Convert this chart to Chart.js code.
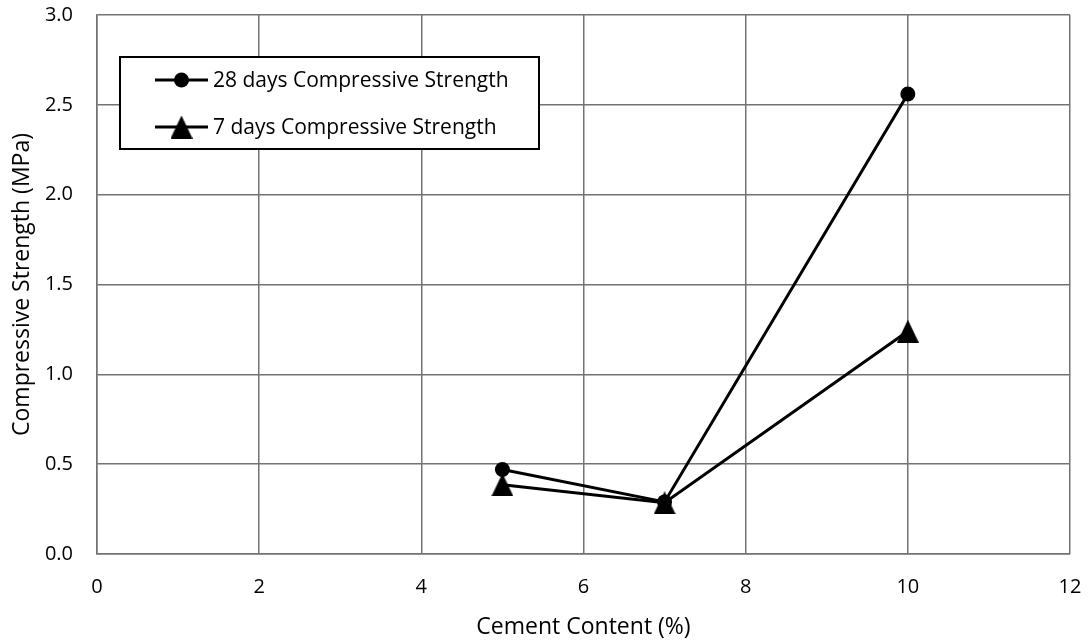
<!DOCTYPE html>
<html>
<head>
<meta charset="utf-8">
<script src="https://cdn.jsdelivr.net/npm/chart.js@4/dist/chart.umd.min.js"></script>
<style>
  html, body { margin: 0; padding: 0; background: #fff; }
  #wrap { width: 1091px; height: 643px; }
</style>
</head>
<body>
<div id="wrap"><canvas id="c" width="1091" height="643"></canvas></div>
<script>
// Cement content (%) and compressive strength (MPa)
const cementContent = [5, 7, 10];
const strength28Days = [0.47, 0.29, 2.56];
const strength7Days = [0.385, 0.285, 1.24];
const seriesLabels = ['28 days Compressive Strength', '7 days Compressive Strength'];
const xTitle = 'Cement Content (%)';
const yTitle = 'Compressive Strength (MPa)';

const FONT = '"Open Sans", "Noto Sans", sans-serif';
const TICK_SIZE = 20;
const LEGEND_SIZE = 21;
const TITLE_SIZE = 23;
const GRID = '#737373';

// Filled triangle marker as a small canvas image
function makeTriangle(w, h) {
  const cv = document.createElement('canvas');
  cv.width = w; cv.height = h;
  const g = cv.getContext('2d');
  g.fillStyle = '#000';
  g.beginPath();
  g.moveTo(w / 2, 0);
  g.lineTo(w, h);
  g.lineTo(0, h);
  g.closePath();
  g.fill();
  return cv;
}
const triangle = makeTriangle(22, 23);

const toXY = (xs, ys) => xs.map((x, i) => ({ x: x, y: ys[i] }));

// Boxed legend drawn inside the plot area
const boxLegend = {
  id: 'boxLegend',
  afterDraw(chart) {
    const ctx = chart.ctx;
    const left = 120, top = 57, right = 539, bottom = 149;
    const rows = [80, 127];
    ctx.save();
    ctx.fillStyle = '#fff';
    ctx.fillRect(left, top, right - left, bottom - top);
    ctx.strokeStyle = '#000';
    ctx.lineWidth = 2;
    ctx.strokeRect(left, top, right - left, bottom - top);
    chart.data.datasets.forEach((ds, i) => {
      const y = rows[i];
      ctx.strokeStyle = '#000';
      ctx.lineWidth = 3;
      ctx.beginPath();
      ctx.moveTo(155, y);
      ctx.lineTo(208, y);
      ctx.stroke();
      if (ds.pointStyle === 'circle') {
        ctx.fillStyle = '#000';
        ctx.beginPath();
        ctx.arc(181.5, y, ds.pointRadius, 0, Math.PI * 2);
        ctx.fill();
      } else {
        const im = ds.pointStyle;
        ctx.drawImage(im, 181.5 - im.width / 2, y - im.height / 2);
      }
      ctx.fillStyle = '#000';
      ctx.font = LEGEND_SIZE + 'px ' + FONT;
      ctx.textAlign = 'left';
      ctx.textBaseline = 'middle';
      ctx.fillText(ds.label, 213, y + 1);
    });
    ctx.restore();
  }
};

new Chart(document.getElementById('c'), {
  type: 'line',
  data: {
    datasets: [
      {
        label: seriesLabels[0],
        data: toXY(cementContent, strength28Days),
        borderColor: '#000',
        backgroundColor: '#000',
        borderWidth: 3,
        pointStyle: 'circle',
        pointRadius: 7.5,
        pointBorderWidth: 0,
        pointBackgroundColor: '#000',
        tension: 0,
        order: 1
      },
      {
        label: seriesLabels[1],
        data: toXY(cementContent, strength7Days),
        borderColor: '#000',
        backgroundColor: '#000',
        borderWidth: 3,
        pointStyle: triangle,
        pointRadius: 11,
        tension: 0,
        order: 0
      }
    ]
  },
  options: {
    responsive: false,
    animation: false,
    layout: { padding: { top: 15, right: 21, left: 0, bottom: 0 } },
    plugins: {
      legend: { display: false },
      tooltip: { enabled: false }
    },
    scales: {
      x: {
        type: 'linear',
        min: 0, max: 12,
        ticks: {
          stepSize: 2,
          color: '#000',
          padding: 21,
          font: { family: FONT, size: TICK_SIZE }
        },
        grid: { color: GRID, lineWidth: 1.5, drawTicks: false },
        border: { color: GRID, width: 1.5 },
        title: {
          display: true,
          text: xTitle,
          color: '#000',
          font: { family: FONT, size: TITLE_SIZE },
          padding: { top: 0, bottom: 2 }
        },
        afterFit(scale) {
          scale.height = 89;
          scale.paddingLeft = 0;
          scale.paddingRight = 0;
        }
      },
      y: {
        min: 0, max: 3,
        ticks: {
          stepSize: 0.5,
          color: '#000',
          padding: 24,
          font: { family: FONT, size: TICK_SIZE },
          callback: v => Number(v).toFixed(1)
        },
        grid: { color: GRID, lineWidth: 1.5, drawTicks: false },
        border: { color: GRID, width: 1.5 },
        title: {
          display: true,
          text: yTitle,
          color: '#000',
          font: { family: FONT, size: TITLE_SIZE },
          padding: { top: 9, bottom: 0 }
        },
        afterFit(scale) {
          scale.width = 97;
          scale.paddingTop = 0;
          scale.paddingBottom = 0;
        }
      }
    }
  },
  plugins: [boxLegend]
});
</script>
</body>
</html>
